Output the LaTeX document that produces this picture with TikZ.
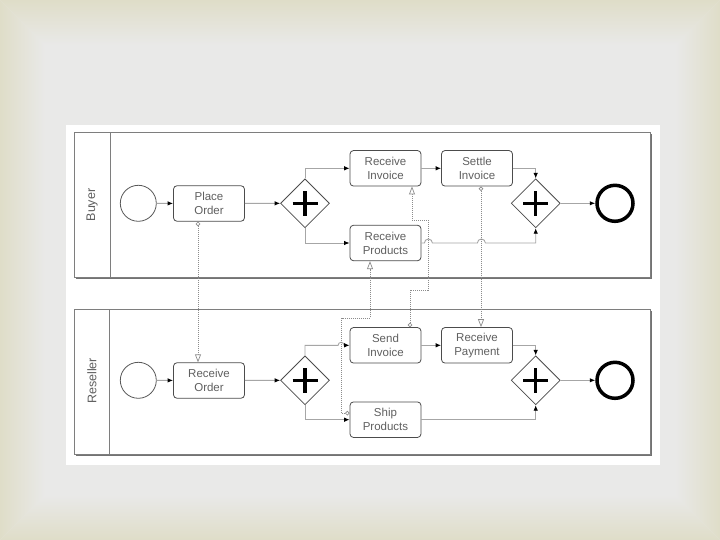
\documentclass[tikz,border=0pt]{standalone}
\usepackage{fontspec}
\setmainfont{Liberation Sans}
\usetikzlibrary{arrows.meta,shapes.geometric}
\definecolor{slidebeige}{HTML}{DFDDC8}
\definecolor{slidegray}{HTML}{E9E9E8}
\definecolor{poolgray}{HTML}{7E7E7E}
\definecolor{flowgray}{HTML}{A6A6A6}
\definecolor{labelgray}{HTML}{606060}

\begin{document}
\begin{tikzpicture}[x=1pt,y=-1pt,font=\fontsize{11.5}{14}\selectfont,
  task/.style={draw=black!70, line width=0.8pt, rounded corners=3.5pt, fill=white,
    minimum width=71pt, minimum height=35.5pt, inner sep=1pt, align=center, text=labelgray},
  gate/.style={diamond, draw=black!70, line width=0.8pt, fill=white,
    minimum width=49pt, minimum height=49pt, inner sep=0pt,
    path picture={\draw[black, line width=3.4pt] (path picture bounding box.center) ++(-12.5pt,0) -- ++(25pt,0)
      (path picture bounding box.center) ++(0,-12.5pt) -- ++(0,25pt);}},
  startev/.style={circle, draw=black!65, line width=0.8pt, fill=white, minimum size=36pt, inner sep=0pt},
  endev/.style={circle, draw=black, line width=3.5pt, fill=white, minimum size=36pt, inner sep=0pt},
  seq/.style={flowgray, line width=0.9pt, -{Latex[length=5.5pt,width=4.5pt,color=black]}},
  msg/.style={black!45, line width=0.7pt, dash pattern=on 1pt off 1pt,
    {Circle[open,length=4.5pt,fill=white]}-{Triangle[open,length=8pt,width=6pt,fill=white]}},
  pool/.style={draw=poolgray, line width=1pt, fill=white},
  lane/.style={rotate=90, font=\fontsize{12.5}{14}\selectfont, text=labelgray}]
  \useasboundingbox (0,0) rectangle (720,540);
  % Slide background
  \fill[slidegray] (0,0) rectangle (720,540);
  \begin{scope}
    \clip (0,0) -- (45,45) -- (45,495) -- (0,540) -- cycle;
    \shade[left color=slidebeige, right color=slidegray] (0,0) rectangle (45,540);
  \end{scope}
  \begin{scope}
    \clip (720,0) -- (675,45) -- (675,495) -- (720,540) -- cycle;
    \shade[left color=slidegray, right color=slidebeige] (675,0) rectangle (720,540);
  \end{scope}
  \begin{scope}
    \clip (0,0) -- (720,0) -- (675,45) -- (45,45) -- cycle;
    \shade[top color=slidebeige, bottom color=slidegray] (0,0) rectangle (720,45);
  \end{scope}
  \begin{scope}
    \clip (0,540) -- (45,495) -- (675,495) -- (720,540) -- cycle;
    \shade[top color=slidegray, bottom color=slidebeige] (0,495) rectangle (720,540);
  \end{scope}
  \fill[white] (66,125) rectangle (660,465);
  % Buyer pool
  \fill[black!55] (76.2,134.2) rectangle (652.2,278.8);
  \draw[pool] (74.7,132.7) rectangle (650.7,277.3);
  \draw[poolgray, line width=1pt] (110,132.7) -- (110,277.3);
  \node[lane] (buyer) at (92,205) {Buyer};
  \node[startev] (bstart) at (138.3,203.3) {};
  \node[task] (place) at (209,203.5) {Place\\Order};
  \node[gate] (bsplit) at (305,203.3) {};
  \node[task] (rinv) at (385.5,168.3) {Receive\\Invoice};
  \node[task] (settle) at (477,168.3) {Settle\\Invoice};
  \node[task] (rprod) at (385.5,243) {Receive\\Products};
  \node[gate] (bjoin) at (535.7,203.3) {};
  \node[endev] (bend) at (615,203.3) {};
  \draw[seq] (bstart) -- (place);
  \draw[seq] (place) -- (bsplit);
  \draw[seq] (bsplit.north) |- (rinv);
  \draw[seq] (bsplit.south) |- (rprod);
  \draw[seq] (rinv) -- (settle);
  \draw[seq] (settle) -| (bjoin.north);
  \draw[seq] (rprod.east) -- ++(3,0) arc[start angle=180,end angle=0,radius=4pt]
    -- ++(45,0) arc[start angle=180,end angle=0,radius=4pt] -| (bjoin.south);
  \draw[seq] (bjoin) -- (bend);
  % Reseller pool
  \begin{scope}[shift={(0,177)}]
    \fill[black!55] (76.2,134.2) rectangle (652.2,278.8);
    \draw[pool] (74.7,132.7) rectangle (650.7,277.3);
    \draw[poolgray, line width=1pt] (109.5,132.7) -- (109.5,277.3);
    \node[lane] (reseller) at (92,204) {Reseller};
    \node[startev] (rstart) at (138.3,203.3) {};
    \node[task] (rord) at (209,203.5) {Receive\\Order};
    \node[gate] (rsplit) at (305,203.3) {};
    \node[task] (sinv) at (385.5,168.3) {Send\\Invoice};
    \node[task] (rpay) at (477,168.3) {Receive\\Payment};
    \node[task] (ship) at (385.5,242.7) {Ship\\Products};
    \node[gate] (rjoin) at (535.7,203.3) {};
    \node[endev] (rend) at (615,203.3) {};
  \end{scope}
  \draw[seq] (rstart) -- (rord);
  \draw[seq] (rord) -- (rsplit);
  \draw[seq] (rsplit.north) |- ([xshift=-11.5pt]sinv.west) arc[start angle=180,end angle=0,radius=3pt] -- (sinv.west);
  \draw[seq] (rsplit.south) |- (ship);
  \draw[seq] (sinv) -- (rpay);
  \draw[seq] (rpay) -| (rjoin.north);
  \draw[seq] (ship) -| (rjoin.south);
  \draw[seq] (rjoin) -- (rend);
  % Message flows
  \draw[msg] ([xshift=-11pt]place.south) -- ([xshift=-11pt]rord.north);
  \draw[msg] ([xshift=24.5pt]sinv.north) |- ++(18,-37) |- ++(-16,-70) -- ([xshift=26.5pt]rinv.south);
  \draw[msg] ([yshift=6.5pt]ship.west) -- ++(-8,0) |- ++(28.4,-95) -- ([xshift=-15.5pt]rprod.south);
  \draw[msg] ([xshift=4pt]settle.south) -- ([xshift=4pt]rpay.north);
\end{tikzpicture}
\end{document}
